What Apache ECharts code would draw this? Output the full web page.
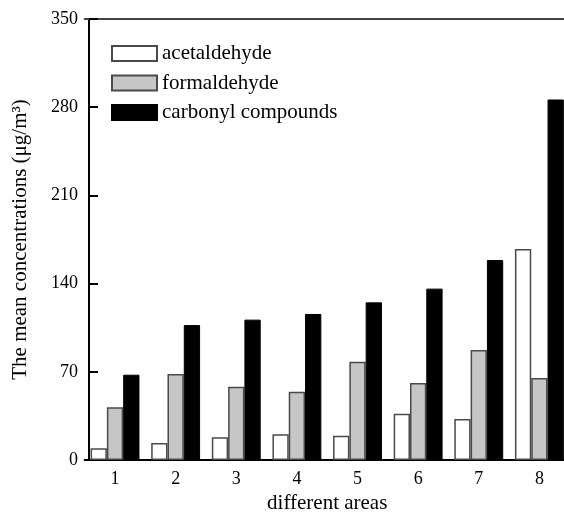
<!DOCTYPE html>
<html><head><meta charset="utf-8">
<script src="https://cdn.jsdelivr.net/npm/echarts@6/dist/echarts.min.js"></script>
<style>html,body{margin:0;padding:0;background:#fff}#c{width:564px;height:512px}</style>
</head><body><div id="c"></div>
<script>
const categories = ['1','2','3','4','5','6','7','8'];
const acetaldehyde = [9.3, 13.5, 18.0, 20.4, 19.3, 36.8, 32.5, 167.5];
const formaldehyde = [41.8, 68.3, 58.2, 54.2, 78.0, 61.1, 87.3, 65.0];
const carbonyl = [67.7, 107.1, 111.4, 115.9, 125.1, 136.0, 158.7, 286.1];
const yTicks = [0, 70, 140, 210, 280, 350];

const FONT = 'Liberation Serif';
const chart = echarts.init(document.getElementById('c'), null, {renderer: 'canvas'});
const gTop = 19, gHeight = 441;
chart.setOption({
  animation: false,
  backgroundColor: '#fff',
  textStyle: {fontFamily: FONT, color: '#000'},
  grid: {left: 84.7, top: gTop, width: 485, height: gHeight, containLabel: false, outerBoundsMode: 'none'},
  legend: {
    orient: 'vertical', left: 106, top: 38, itemWidth: 45, itemHeight: 15, itemGap: 8.5,
    icon: 'rect',
    textStyle: {fontFamily: FONT, fontSize: 21, color: '#000', lineHeight: 20},
    data: ['acetaldehyde', 'formaldehyde', 'carbonyl compounds']
  },
  xAxis: [
    {type: 'category', data: categories, position: 'bottom',
     axisLine: {show: true, onZero: false, lineStyle: {color: '#000', width: 2}}, axisTick: {show: false},
     axisLabel: {fontFamily: FONT, fontSize: 18, color: '#000', margin: 10},
     name: 'different areas', nameLocation: 'middle', nameGap: 32,
     nameTextStyle: {fontFamily: FONT, fontSize: 21, color: '#000'}},
    {type: 'category', data: categories, position: 'top',
     axisLine: {show: true, onZero: false, lineStyle: {color: '#444', width: 2}},
     axisTick: {show: false}, axisLabel: {show: false}, splitLine: {show: false}}
  ],
  yAxis: [
    {type: 'value', min: yTicks[0], max: yTicks[yTicks.length-1], interval: 70, offset: -4.3,
     axisLine: {show: true, onZero: false, lineStyle: {color: '#000', width: 2}},
     axisTick: {show: true, inside: true, length: 9, lineStyle: {color: '#000', width: 2}},
     axisLabel: {fontFamily: FONT, fontSize: 18, color: '#000', margin: 11},
     splitLine: {show: false},
     name: 'The mean concentrations (μg/m³)', nameLocation: 'middle', nameGap: 58,
     nameTextStyle: {fontFamily: FONT, fontSize: 21, color: '#000'}}
  ],
  series: [
    {name: 'acetaldehyde', type: 'bar', data: acetaldehyde,
     barWidth: 16.3, barGap: '0%',
     itemStyle: {color: '#ffffff', borderColor: '#4a4a4a', borderWidth: 1.5}},
    {name: 'formaldehyde', type: 'bar', data: formaldehyde,
     barWidth: 16.3, barGap: '0%',
     itemStyle: {color: '#c6c6c6', borderColor: '#4a4a4a', borderWidth: 1.5}},
    {name: 'carbonyl compounds', type: 'bar', data: carbonyl,
     barWidth: 16.3, barGap: '0%',
     itemStyle: {color: '#000000', borderColor: '#000', borderWidth: 1}}
  ]
});
</script></body></html>
